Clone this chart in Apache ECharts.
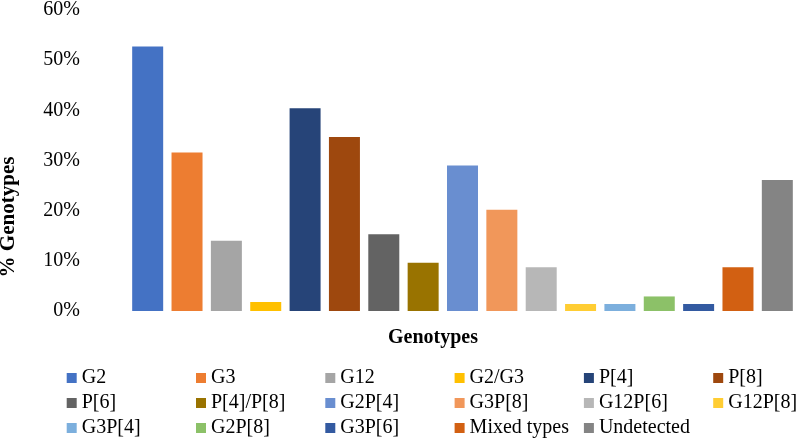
<!DOCTYPE html>
<html>
<head>
<meta charset="utf-8">
<script src="https://cdn.jsdelivr.net/npm/echarts@6/dist/echarts.min.js"></script>
<style>
  html, body { margin: 0; padding: 0; background: #fff; }
  #chart { width: 797px; height: 440px; }
</style>
</head>
<body>
<div id="chart"></div>
<script>
  // genotype names, in bar order
  var genotypes = ['G2', 'G3', 'G12', 'G2/G3', 'P[4]', 'P[8]', 'P[6]', 'P[4]/P[8]', 'G2P[4]',
    'G3P[8]', 'G12P[6]', 'G12P[8]', 'G3P[4]', 'G2P[8]', 'G3P[6]', 'Mixed types', 'Undetected'];
  // percent of samples
  var percents = [52.7, 31.6, 14.0, 1.8, 40.4, 34.7, 15.3, 9.6, 29.0,
    20.2, 8.7, 1.4, 1.4, 2.9, 1.4, 8.7, 26.1];
  var colors = ['#4472C4', '#ED7D31', '#A5A5A5', '#FFC000', '#264478', '#9E480E', '#636363', '#997300', '#698ED0',
    '#F1975A', '#B7B7B7', '#FFCD33', '#7CAFDD', '#8CC168', '#335AA1', '#D26012', '#848484'];
  var yTicks = [0, 10, 20, 30, 40, 50, 60];

  var font = 'Liberation Serif';
  var chart = echarts.init(document.getElementById('chart'));

  // one series per genotype so each gets a legend entry; stacked so bars sit in their own slot
  var series = genotypes.map(function (name, i) {
    var data = genotypes.map(function (g, j) { return j === i ? percents[i] : '-'; });
    return {
      name: name,
      type: 'bar',
      stack: 'all',
      barWidth: 31,
      data: data,
      itemStyle: { color: colors[i] }
    };
  });

  // legend is laid out as 6 vertical columns so entries line up like the original
  var legendCols = [];
  for (var c = 0; c < 6; c++) {
    legendCols.push({
      data: genotypes.filter(function (g, i) { return i % 6 === c; }),
      orient: 'vertical',
      left: 66.7 + c * 129.3,
      top: 368,
      padding: 0,
      itemWidth: 10,
      itemHeight: 10,
      itemGap: 5,
      icon: 'rect',
      textStyle: { fontFamily: font, fontSize: 20, color: '#000' }
    });
  }

  var option = {
    backgroundColor: '#fff',
    animation: false,
    color: colors,
    grid: {
      left: 128,
      width: 670,
      top: 7.5,
      height: 303.5
    },
    xAxis: {
      type: 'category',
      data: genotypes,
      axisLine: { show: false },
      axisTick: { show: false },
      axisLabel: { show: false },
      splitLine: { show: false }
    },
    yAxis: {
      type: 'value',
      min: yTicks[0],
      max: yTicks[yTicks.length - 1],
      interval: 10,
      axisLine: { show: false },
      axisTick: { show: false },
      splitLine: { show: false },
      axisLabel: {
        margin: 48,
        fontFamily: font,
        fontSize: 20,
        color: '#000',
        formatter: '{value}%'
      }
    },
    legend: legendCols,
    graphic: [
      {
        type: 'text',
        x: 433,
        y: 338,
        style: {
          text: 'Genotypes',
          font: 'bold 20px "Liberation Serif"',
          fill: '#000',
          textAlign: 'center',
          textVerticalAlign: 'middle'
        }
      },
      {
        type: 'text',
        x: 9,
        y: 217,
        rotation: Math.PI / 2,
        style: {
          text: '% Genotypes',
          font: 'bold 21px "Liberation Serif"',
          fill: '#000',
          textAlign: 'center',
          textVerticalAlign: 'middle'
        }
      }
    ],
    series: series
  };
  chart.setOption(option);
</script>
</body>
</html>
